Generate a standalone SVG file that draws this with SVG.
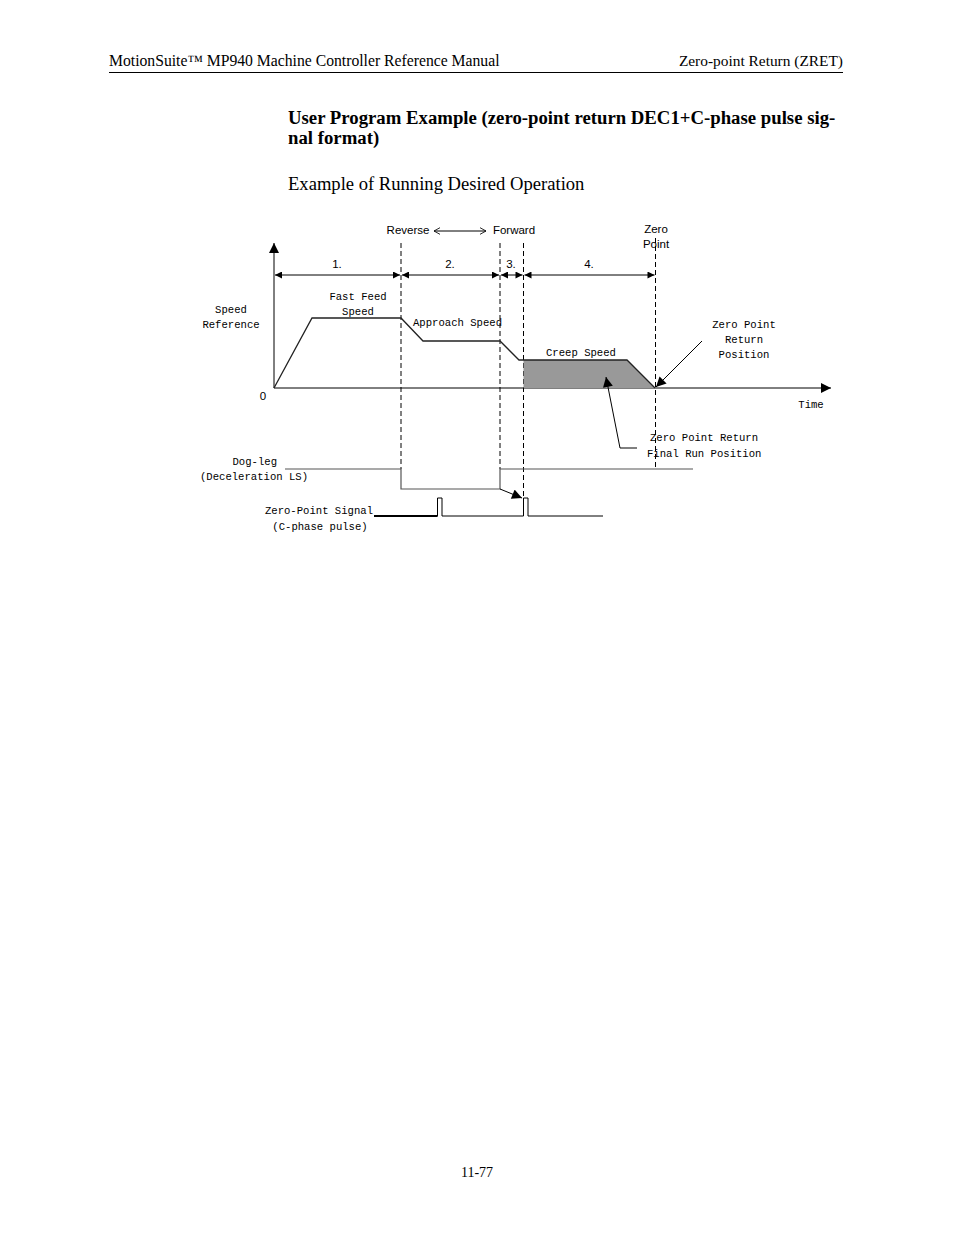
<svg xmlns="http://www.w3.org/2000/svg" width="954" height="1235" viewBox="0 0 954 1235">
<defs>
<marker id="ah" viewBox="0 0 10 10" refX="10" refY="5" markerWidth="8" markerHeight="7" markerUnits="userSpaceOnUse" orient="auto-start-reverse"><path d="M0,0 L10,5 L0,10 z" fill="#000"/></marker>
<marker id="ahb" viewBox="0 0 10 10" refX="10" refY="5" markerWidth="11" markerHeight="10" markerUnits="userSpaceOnUse" orient="auto-start-reverse"><path d="M0,0 L10,5 L0,10 z" fill="#000"/></marker>
<marker id="open" viewBox="0 0 10 10" refX="9" refY="5" markerWidth="7" markerHeight="9" markerUnits="userSpaceOnUse" orient="auto-start-reverse"><path d="M0,0 L9,5 L0,10" fill="none" stroke="#000" stroke-width="1.2"/></marker>
</defs>
<style>
.t{font-family:"Liberation Serif","Times New Roman",serif;fill:#000}
.s{font-family:"Liberation Sans",Arial,sans-serif;font-size:11.5px;fill:#000}
.m{font-family:"Liberation Mono","DejaVu Sans Mono",monospace;font-size:10.6px;fill:#000}
.ln{stroke:#000;stroke-width:1;fill:none}
.dash{stroke:#000;stroke-width:1;stroke-dasharray:5,3;fill:none}
.gray{stroke:#555;stroke-width:1.2;fill:none}
</style>
<rect width="954" height="1235" fill="#fff"/>
<g id="header">
<text class="t" x="109" y="66" font-size="15.7">MotionSuite™ MP940 Machine Controller Reference Manual</text>
<text class="t" x="843" y="66" font-size="15.4" text-anchor="end">Zero-point Return (ZRET)</text>
<line x1="109" y1="72.5" x2="843" y2="72.5" stroke="#000" stroke-width="1"/>
</g>
<g id="title">
<text class="t" x="288" y="124" font-size="18.75" font-weight="bold">User Program Example (zero-point return DEC1+C-phase pulse sig-</text>
<text class="t" x="288" y="144" font-size="18.75" font-weight="bold">nal format)</text>
<text class="t" x="288" y="190" font-size="18.6">Example of Running Desired Operation</text>
</g>
<g id="connectors">
<line class="ln" x1="274" y1="388" x2="274" y2="243" marker-end="url(#ahb)"/>
<line class="ln" x1="274" y1="388" x2="831" y2="388" marker-end="url(#ahb)"/>
<line class="dash" x1="401" y1="243" x2="401" y2="469"/>
<line class="dash" x1="500" y1="243" x2="500" y2="469"/>
<line class="dash" x1="523.5" y1="243" x2="523.5" y2="498"/>
<line class="dash" x1="655.5" y1="238" x2="655.5" y2="469"/>
<line class="ln" x1="275" y1="275" x2="400" y2="275" marker-start="url(#ah)" marker-end="url(#ah)"/>
<line class="ln" x1="402" y1="275" x2="499" y2="275" marker-start="url(#ah)" marker-end="url(#ah)"/>
<line class="ln" x1="501" y1="275" x2="522.5" y2="275" marker-start="url(#ah)" marker-end="url(#ah)"/>
<line class="ln" x1="524.5" y1="275" x2="654.5" y2="275" marker-start="url(#ah)" marker-end="url(#ah)"/>
<line class="ln" x1="434" y1="231" x2="486" y2="231" marker-start="url(#open)" marker-end="url(#open)"/>
<path d="M523.5,360 L627,360 L655,388 L523.5,388 Z" fill="#999" stroke="none"/>
<polyline points="274,388 312,318 401,318 423,341 500,341 519,360 627,360 655,388" fill="none" stroke="#222" stroke-width="1.3"/>
<line class="ln" x1="702" y1="341" x2="656" y2="387" marker-end="url(#ahb)"/>
<polyline class="ln" points="637,448 620,448 606,377" marker-end="url(#ahb)"/>
<polyline class="gray" points="285,469 401,469 401,489 500,489 500,469 693,469"/>
<line class="ln" x1="500" y1="489" x2="522" y2="498" marker-end="url(#ahb)"/>
<polyline points="374,516 437.5,516 437.5,498 442,498 442,516 523.5,516 523.5,498 528,498 528,516 603,516" fill="none" stroke="#000" stroke-width="1"/>
<line x1="374" y1="516" x2="437.5" y2="516" stroke="#000" stroke-width="2"/>
</g>
<g id="labels">
<text class="s" x="408" y="234" text-anchor="middle">Reverse</text>
<text class="s" x="514" y="234" text-anchor="middle">Forward</text>
<text class="s" x="656" y="233" text-anchor="middle">Zero</text>
<text class="s" x="656" y="248" text-anchor="middle">Point</text>
<text class="s" x="337" y="268" text-anchor="middle">1.</text>
<text class="s" x="450" y="268" text-anchor="middle">2.</text>
<text class="s" x="511" y="268" text-anchor="middle">3.</text>
<text class="s" x="589" y="268" text-anchor="middle">4.</text>
<text class="s" x="263" y="400" text-anchor="middle">0</text>
<text class="m" x="358" y="300" text-anchor="middle">Fast Feed</text>
<text class="m" x="358" y="315" text-anchor="middle">Speed</text>
<text class="m" x="231" y="313" text-anchor="middle">Speed</text>
<text class="m" x="231" y="328" text-anchor="middle">Reference</text>
<text class="m" x="413" y="326">Approach Speed</text>
<text class="m" x="546" y="356">Creep Speed</text>
<text class="m" x="744" y="328" text-anchor="middle">Zero Point</text>
<text class="m" x="744" y="343" text-anchor="middle">Return</text>
<text class="m" x="744" y="358" text-anchor="middle">Position</text>
<text class="m" x="811" y="408" text-anchor="middle">Time</text>
<text class="m" x="650" y="441">Zero Point Return</text>
<text class="m" x="647" y="457">Final Run Position</text>
<text class="m" x="277" y="465" text-anchor="end">Dog-leg</text>
<text class="m" x="254" y="480" text-anchor="middle">(Deceleration LS)</text>
<text class="m" x="373" y="514" text-anchor="end">Zero-Point Signal</text>
<text class="m" x="320" y="530" text-anchor="middle">(C-phase pulse)</text>
</g>
<g id="footer">
<text class="t" x="477" y="1177" font-size="14" text-anchor="middle">11-77</text>
</g>
</svg>
